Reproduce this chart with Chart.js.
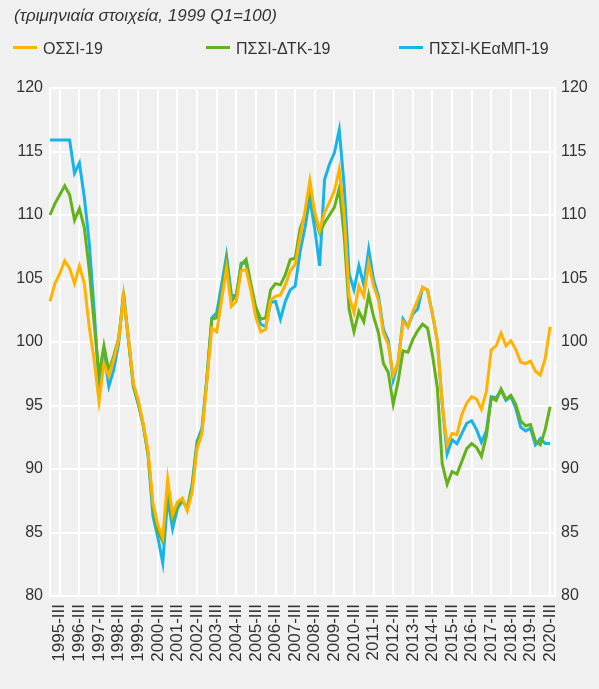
<!DOCTYPE html>
<html><head><meta charset="utf-8">
<script src="https://cdn.jsdelivr.net/npm/chart.js@4"></script>
<style>
html,body{margin:0;padding:0;background:#f0f0f0;}
body{width:599px;height:689px;position:relative;overflow:hidden;font-family:"Liberation Sans",Arial,sans-serif;color:#333;}
#title{position:absolute;left:14px;top:6px;font-size:17px;font-style:italic;color:#333;}
.leg{position:absolute;top:40px;font-size:16px;color:#333;white-space:nowrap;}
.leg span{display:inline-block;width:24px;height:3px;vertical-align:middle;margin-right:6px;position:relative;top:-2px;}
#wrap{position:absolute;left:0;top:0;width:599px;height:689px;}
</style></head>
<body>
<div id="wrap"><canvas id="c" width="599" height="689"></canvas></div>
<div id="title">(τριμηνιαία στοιχεία, 1999 Q1=100)</div>
<div class="leg" style="left:13px"><span style="background:#FFB300"></span>ΟΣΣΙ-19</div>
<div class="leg" style="left:206px"><span style="background:#64B21A"></span>ΠΣΣΙ-ΔΤΚ-19</div>
<div class="leg" style="left:399px"><span style="background:#16B4E8"></span>ΠΣΣΙ-ΚΕαΜΠ-19</div>
<script>
const years = [1995,1996,1997,1998,1999,2000,2001,2002,2003,2004,2005,2006,2007,2008,2009,2010,2011,2012,2013,2014,2015,2016,2017,2018,2019,2020];
const quarters = ["I","II","III","IV"];
const seriesNames = ["ΟΣΣΙ-19","ΠΣΣΙ-ΔΤΚ-19","ΠΣΣΙ-ΚΕαΜΠ-19"];
const ossi = [103.2,104.6,105.4,106.4,105.8,104.6,106.0,104.6,101.2,98.6,95.3,98.3,97.3,98.6,100.2,103.6,100.3,96.8,95.4,93.6,91.4,87.3,85.6,84.6,89.2,86.4,87.4,87.7,86.7,88.2,91.6,92.8,96.9,101.1,100.8,103.3,105.8,102.8,103.2,105.6,105.7,104.0,101.9,100.8,101.0,103.3,103.6,103.7,104.5,105.6,106.1,108.2,110.3,112.7,110.2,108.8,110.2,111.0,111.9,113.6,110.0,103.6,102.3,104.4,103.6,106.2,104.4,103.3,100.7,99.8,97.4,98.4,101.6,101.2,102.4,103.3,104.3,104.1,102.2,100.1,95.1,91.9,92.8,92.7,94.3,95.2,95.7,95.5,94.7,96.1,99.4,99.7,100.7,99.7,100.1,99.4,98.4,98.3,98.5,97.7,97.4,98.7,101.2];
const pssiDtk = [110.0,110.9,111.6,112.3,111.6,109.6,110.5,109.0,105.7,101.5,97.4,99.7,97.7,98.9,100.3,103.6,100.2,96.6,95.2,93.5,91.2,87.0,85.1,84.3,88.4,86.1,87.1,87.5,86.9,88.6,92.0,93.0,97.1,101.8,101.9,103.7,106.4,103.2,103.7,106.1,106.5,104.5,102.7,101.8,101.9,104.1,104.6,104.5,105.3,106.5,106.6,108.9,110.0,112.4,109.9,108.6,109.4,110.0,110.6,112.1,108.4,102.6,100.8,102.4,101.6,103.7,102.0,100.7,98.3,97.6,95.1,96.9,99.3,99.2,100.2,100.9,101.4,101.1,99.0,96.4,90.4,88.8,89.8,89.6,90.6,91.6,92.0,91.7,91.0,92.6,95.6,95.4,96.3,95.5,95.8,95.1,93.8,93.4,93.5,92.2,91.9,93.1,94.9];
const pssiKeamp = [115.9,115.9,115.9,115.9,115.9,113.3,114.1,111.4,107.8,102.5,96.6,99.1,96.5,97.8,99.9,103.9,100.2,96.5,95.1,93.5,91.1,86.3,84.6,82.6,87.7,85.3,86.9,87.5,86.9,88.8,92.2,93.2,97.2,101.9,102.3,104.5,106.8,103.7,103.6,106.2,106.2,104.3,102.3,101.4,101.2,103.1,103.2,101.8,103.2,104.1,104.4,107.1,109.0,111.3,108.9,106.0,112.8,114.0,114.9,116.7,112.3,105.4,104.1,106.0,104.5,107.3,104.9,103.6,101.0,100.1,97.0,98.4,101.8,101.2,102.2,102.6,104.3,104.1,102.2,100.1,95.1,91.2,92.3,92.0,92.8,93.6,93.8,93.1,92.1,93.0,95.7,95.6,96.2,95.4,95.7,94.8,93.3,93.0,93.2,91.9,92.4,92.0,92.0];
const yTicks = [80,85,90,95,100,105,110,115,120];

const labels = [];
years.forEach(y => quarters.forEach(q => labels.push(y + "-" + q)));

const FONT = {family:'"Liberation Sans", Arial, sans-serif', size:16};
const XFONT = {family:'"Liberation Sans", Arial, sans-serif', size:17};
const ds = (label, data, color) => ({label, data, borderColor:color, backgroundColor:color, borderWidth:3, pointRadius:0, tension:0, fill:false, yAxisID:'y'});

new Chart(document.getElementById('c'), {
  type:'line',
  data:{labels, datasets:[ds(seriesNames[0], ossi, '#FFB300'), ds(seriesNames[1], pssiDtk, '#64B21A'), ds(seriesNames[2], pssiKeamp, '#16B4E8')]},
  options:{
    responsive:false, animation:false,
    layout:{padding:{top:88,left:0,right:0,bottom:0}},
    plugins:{legend:{display:false}, tooltip:{enabled:false}},
    scales:{
      x:{
        type:'category',
        grid:{color:(c)=> (c.index % 4 === 2 ? '#ffffff' : 'rgba(0,0,0,0)'), lineWidth:2, drawTicks:false},
        border:{display:false},
        ticks:{autoSkip:false, maxRotation:90, minRotation:90, padding:8, color:'#333', font:XFONT,
          callback:function(v, i){ return i % 4 === 2 ? this.getLabelForValue(v) : ''; }},
        afterFit:(s)=>{ s.height = 93; }
      },
      y:{
        position:'left', min:80, max:120,
        afterBuildTicks:(s)=>{ s.ticks = yTicks.map(v=>({value:v})); },
        grid:{color:'#ffffff', lineWidth:2, drawTicks:false},
        border:{display:true, color:'#ffffff', width:2},
        ticks:{color:'#333', font:FONT, padding:7},
        afterFit:(s)=>{ s.width = 50; }
      },
      y2:{
        position:'right', min:80, max:120,
        afterBuildTicks:(s)=>{ s.ticks = yTicks.map(v=>({value:v})); },
        grid:{display:false, drawTicks:false},
        border:{display:true, color:'#ffffff', width:2},
        ticks:{color:'#333', font:FONT, padding:6},
        afterFit:(s)=>{ s.width = 44; }
      }
    }
  }
});
</script>
</body></html>
